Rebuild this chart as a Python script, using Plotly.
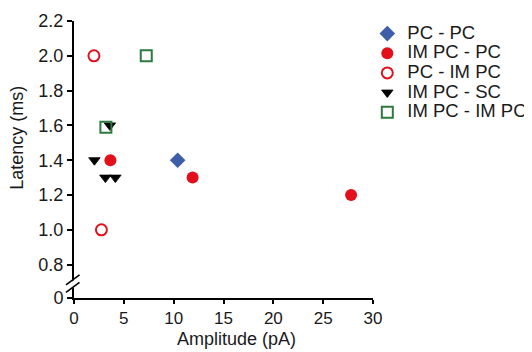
import plotly.graph_objects as go

# ---- data ----
pcpc_x = [10.4]
pcpc_y = [1.4]
impc_pc_x = [3.65, 11.9, 27.8]
impc_pc_y = [1.4, 1.3, 1.2]
pc_impc_x = [2.0, 2.75]
pc_impc_y = [2.0, 1.0]
impc_sc_x = [2.05, 3.15, 4.15, 3.6]
impc_sc_y = [1.4, 1.3, 1.3, 1.6]
impc_impc_x = [3.2, 7.25]
impc_impc_y = [1.59, 2.0]

series_names = ["PC - PC", "IM PC - PC", "PC - IM PC", "IM PC - SC", "IM PC - IM PC"]

x_tickvals = [0, 5, 10, 15, 20, 25, 30]
y_tick_labels = ["0", "0.8", "1.0", "1.2", "1.4", "1.6", "1.8", "2.0", "2.2"]
y_tick_vals_upper = [0.8, 1.0, 1.2, 1.4, 1.6, 1.8, 2.0, 2.2]
y_break_floor = 0.608  # where the broken axis shows "0"

x_title = "Amplitude (pA)"
y_title = "Latency (ms)"

FONT = "Arial, Liberation Sans, sans-serif"
FS = 18
LEG_FS = 18.5
TXT = "#1a1a1a"
RED = "#E3101B"
BLUE = "#3E5EAA"
GREEN = "#2E7A3C"

# the page body has an 8px margin: the figure starts at (8, 8) in the 532x352 window
OFF = 8
W, H = 532 - OFF, 352 - OFF

# plot area, in window pixels
P_L, P_R, P_T, P_B = 73.5, 372.7, 20.9, 297.7
pw, ph = P_R - P_L, P_B - P_T


def px(xp):
    """window x pixel -> paper x"""
    return (xp - P_L) / pw


def py(yp):
    """window y pixel -> paper y"""
    return (P_B - yp) / ph


def legend_label(s):
    return f'<span style="font-size:{LEG_FS}px">{s}</span>'


fig = go.Figure()
fig.add_trace(go.Scatter(x=pcpc_x, y=pcpc_y, mode="markers", name=legend_label(series_names[0]),
                         marker=dict(symbol="diamond", size=12, color=BLUE, line=dict(width=0))))
fig.add_trace(go.Scatter(x=impc_pc_x, y=impc_pc_y, mode="markers", name=legend_label(series_names[1]),
                         marker=dict(symbol="circle", size=12, color=RED, line=dict(width=0))))
fig.add_trace(go.Scatter(x=pc_impc_x, y=pc_impc_y, mode="markers", name=legend_label(series_names[2]),
                         marker=dict(symbol="circle-open", size=11, color=RED, line=dict(width=2, color=RED))))
fig.add_trace(go.Scatter(x=impc_sc_x, y=impc_sc_y, mode="markers", name=legend_label(series_names[3]),
                         marker=dict(symbol="triangle-down", size=10, color="black",
                                     line=dict(width=0.8, color="black"))))
fig.add_trace(go.Scatter(x=impc_impc_x, y=impc_impc_y, mode="markers", name=legend_label(series_names[4]),
                         marker=dict(symbol="square-open", size=11, color=GREEN, line=dict(width=2, color=GREEN))))

shapes = [
    # white gap in the axis between the break marks
    dict(type="path", xref="paper", yref="paper",
         path=f"M {px(70)} {py(282.5)} L {px(77)} {py(277.3)} L {px(77)} {py(284.5)} L {px(70)} {py(289.5)} Z",
         fillcolor="white", line=dict(width=0), layer="above"),
    dict(type="line", xref="paper", yref="paper", x0=px(65.5), y0=py(284.5), x1=px(79), y1=py(274.5),
         line=dict(color="black", width=1.6), layer="above"),
    dict(type="line", xref="paper", yref="paper", x0=px(65.5), y0=py(292), x1=px(79), y1=py(282),
         line=dict(color="black", width=1.6), layer="above"),
]

annotations = [
    dict(text=x_title, xref="paper", yref="paper", x=px(236), y=py(338.5), xanchor="center", yanchor="middle",
         showarrow=False, font=dict(family=FONT, size=FS, color=TXT)),
    dict(text=y_title, xref="paper", yref="paper", x=px(17), y=py(138), xanchor="center", yanchor="middle",
         textangle=-90, showarrow=False, font=dict(family=FONT, size=FS, color=TXT)),
]

fig.update_layout(
    width=W, height=H,
    margin=dict(l=P_L - OFF, r=(W + OFF) - P_R, t=P_T - OFF, b=(H + OFF) - P_B, pad=0, autoexpand=False),
    paper_bgcolor="white", plot_bgcolor="white",
    font=dict(family=FONT, size=FS, color=TXT),
    showlegend=True,
    legend=dict(x=px(367), y=py(18.7), xanchor="left", yanchor="top",
                font=dict(family=FONT, size=12.8, color=TXT),
                itemwidth=30, tracegroupgap=0, bgcolor="rgba(0,0,0,0)"),
    shapes=shapes,
    annotations=annotations,
)
fig.update_xaxes(range=[0, 30], tickvals=x_tickvals, ticks="outside", ticklen=4, tickwidth=1.5,
                 tickcolor="black", showline=True, linecolor="black", linewidth=2, showgrid=False,
                 zeroline=False, tickfont=dict(size=17), automargin=False)
fig.update_yaxes(range=[y_break_floor, 2.2], tickvals=[y_break_floor] + y_tick_vals_upper,
                 ticktext=y_tick_labels, ticks="outside", ticklen=5, tickwidth=1.5, tickcolor="black",
                 showline=True, linecolor="black", linewidth=2, showgrid=False, zeroline=False,
                 tickfont=dict(size=FS), automargin=False)

fig.write_html("out.html")
